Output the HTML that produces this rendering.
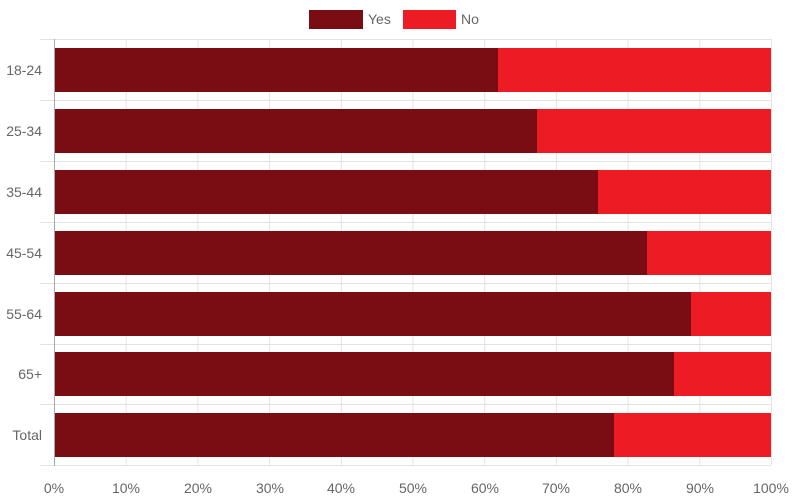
<!DOCTYPE html>
<html><head><meta charset="utf-8"><style>body{margin:0;background:#fff}svg{display:block}</style></head><body>
<svg width="793" height="503" xmlns="http://www.w3.org/2000/svg" font-family="Liberation Sans, sans-serif">
<rect x="309" y="10" width="54" height="19" fill="#7a0c14"/>
<text x="368" y="24" font-size="14" fill="#666">Yes</text>
<rect x="403" y="10" width="53" height="19" fill="#ed1c24"/>
<text x="461" y="24" font-size="14" fill="#666">No</text>
<g stroke="#e3e3e3" stroke-width="1">
<line x1="54.5" y1="39" x2="54.5" y2="465"/><line x1="126.2" y1="39" x2="126.2" y2="465"/><line x1="197.9" y1="39" x2="197.9" y2="465"/><line x1="269.6" y1="39" x2="269.6" y2="465"/><line x1="341.3" y1="39" x2="341.3" y2="465"/><line x1="413" y1="39" x2="413" y2="465"/><line x1="484.7" y1="39" x2="484.7" y2="465"/><line x1="556.4" y1="39" x2="556.4" y2="465"/><line x1="628.1" y1="39" x2="628.1" y2="465"/><line x1="699.8" y1="39" x2="699.8" y2="465"/><line x1="771.5" y1="39" x2="771.5" y2="465"/>
<line x1="40" y1="39.5" x2="771" y2="39.5"/><line x1="40" y1="100.5" x2="771" y2="100.5"/><line x1="40" y1="161.5" x2="771" y2="161.5"/><line x1="40" y1="222.5" x2="771" y2="222.5"/><line x1="40" y1="283.5" x2="771" y2="283.5"/><line x1="40" y1="344.5" x2="771" y2="344.5"/><line x1="40" y1="404.5" x2="771" y2="404.5"/><line x1="40" y1="465.5" x2="771" y2="465.5"/>
</g>
<g>
<rect x="55" y="48" width="443" height="44" fill="#7a0c14"/><rect x="498" y="48" width="273" height="44" fill="#ed1c24"/>
<rect x="55" y="109" width="482" height="44" fill="#7a0c14"/><rect x="537" y="109" width="234" height="44" fill="#ed1c24"/>
<rect x="55" y="170" width="543" height="44" fill="#7a0c14"/><rect x="598" y="170" width="173" height="44" fill="#ed1c24"/>
<rect x="55" y="231" width="592" height="44" fill="#7a0c14"/><rect x="647" y="231" width="124" height="44" fill="#ed1c24"/>
<rect x="55" y="292" width="636" height="44" fill="#7a0c14"/><rect x="691" y="292" width="80" height="44" fill="#ed1c24"/>
<rect x="55" y="352" width="619" height="44" fill="#7a0c14"/><rect x="674" y="352" width="97" height="44" fill="#ed1c24"/>
<rect x="55" y="413" width="559" height="44" fill="#7a0c14"/><rect x="614" y="413" width="157" height="44" fill="#ed1c24"/>
</g>
<line x1="54.5" y1="39" x2="54.5" y2="466" stroke="#aaa"/>
<g font-size="14" fill="#666" text-anchor="end">
<text x="42" y="75">18-24</text><text x="42" y="136">25-34</text><text x="42" y="197">35-44</text><text x="42" y="258">45-54</text><text x="42" y="319">55-64</text><text x="42" y="379">65+</text><text x="42" y="440">Total</text>
</g>
<g font-size="14" fill="#666" text-anchor="middle">
<text x="54" y="493">0%</text><text x="126" y="493">10%</text><text x="198" y="493">20%</text><text x="270" y="493">30%</text><text x="341" y="493">40%</text><text x="413" y="493">50%</text><text x="485" y="493">60%</text><text x="556" y="493">70%</text><text x="628" y="493">80%</text><text x="700" y="493">90%</text><text x="771" y="493">100%</text>
</g>
</svg>
</body></html>
